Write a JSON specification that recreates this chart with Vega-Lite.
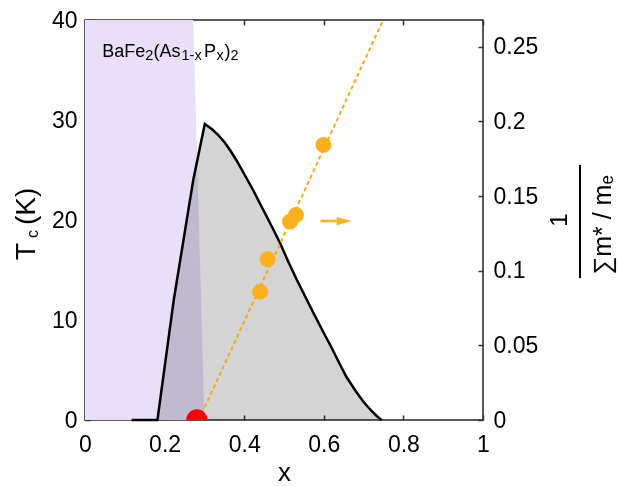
{
  "$schema": "https://vega.github.io/schema/vega-lite/v6.json",
  "width": 398,
  "height": 400,
  "autosize": "none",
  "padding": {"left": 85, "top": 20, "right": 138, "bottom": 66},
  "background": "white",
  "config": {
    "view": {"stroke": "#222", "strokeWidth": 1.5},
    "axis": {
      "labelFont": "Liberation Sans",
      "labelFontSize": 23,
      "labelColor": "#000",
      "titleFont": "Liberation Sans",
      "titleColor": "#000",
      "titleFontWeight": "normal",
      "domain": false,
      "grid": false,
      "tickColor": "#333",
      "tickWidth": 1.5,
      "tickSize": -5,
      "zindex": 1
    },
    "text": {"font": "Liberation Sans", "color": "#000"}
  },
  "datasets": {
    "purple": [{"x": 0.30, "Tc": 0}, {"x": 0.272, "Tc": 40}],
    "tc": [
      {"x": 0.117, "Tc": 0},
      {"x": 0.182, "Tc": 0},
      {"x": 0.223, "Tc": 12},
      {"x": 0.272, "Tc": 24},
      {"x": 0.301, "Tc": 29.6},
      {"x": 0.32, "Tc": 29.05},
      {"x": 0.336, "Tc": 28.45},
      {"x": 0.352, "Tc": 27.7},
      {"x": 0.366, "Tc": 26.9},
      {"x": 0.38, "Tc": 26.0},
      {"x": 0.40, "Tc": 24.6},
      {"x": 0.425, "Tc": 22.8},
      {"x": 0.448, "Tc": 21.0},
      {"x": 0.47, "Tc": 19.3},
      {"x": 0.49, "Tc": 17.7},
      {"x": 0.51, "Tc": 15.9},
      {"x": 0.53, "Tc": 14.2},
      {"x": 0.55, "Tc": 12.6},
      {"x": 0.574, "Tc": 10.7},
      {"x": 0.60, "Tc": 8.7},
      {"x": 0.62, "Tc": 7.2},
      {"x": 0.64, "Tc": 5.6},
      {"x": 0.657, "Tc": 4.3},
      {"x": 0.68, "Tc": 2.9},
      {"x": 0.70, "Tc": 1.8},
      {"x": 0.72, "Tc": 0.9},
      {"x": 0.733, "Tc": 0.4},
      {"x": 0.745, "Tc": 0}
    ],
    "mass": [
      {"x": 0.440, "v": 0.086},
      {"x": 0.459, "v": 0.1077},
      {"x": 0.515, "v": 0.1329},
      {"x": 0.530, "v": 0.1374},
      {"x": 0.599, "v": 0.1843}
    ],
    "red": [{"x": 0.281, "v": 0}],
    "fit": [{"x": 0.286, "v": 0}, {"x": 0.749, "v": 0.268}],
    "formula": [
      {"part": "BaFe", "pos": 0.0435, "level": 36.33, "sub": false},
      {"part": "2", "pos": 0.1515, "level": 36.0, "sub": true},
      {"part": "(As", "pos": 0.1719, "level": 36.33, "sub": false},
      {"part": "1-x", "pos": 0.2425, "level": 36.0, "sub": true},
      {"part": "P", "pos": 0.299, "level": 36.33, "sub": false},
      {"part": "x", "pos": 0.3304, "level": 36.0, "sub": true},
      {"part": ")", "pos": 0.3505, "level": 36.33, "sub": false},
      {"part": "2", "pos": 0.3656, "level": 36.0, "sub": true}
    ],
    "one": [{"k": 1}]
  },
  "resolve": {"scale": {"x": "independent", "y": "independent"}},
  "layer": [
    {
      "layer": [
        {
          "data": {"name": "purple"},
          "mark": {"type": "area", "orient": "horizontal", "color": "#e9dff8"},
          "encoding": {
            "x": {
              "field": "x", "type": "quantitative",
              "scale": {"domain": [0, 1], "nice": false, "zero": false},
              "axis": {
                "orient": "bottom",
                "title": "x",
                "titleFontSize": 26,
                "titlePadding": 3,
                "values": [0, 0.1, 0.2, 0.3, 0.4, 0.5, 0.6, 0.7, 0.8, 0.9, 1],
                "labelExpr": "round(datum.value*10)%2==0 ? format(datum.value,'~g') : ''",
                "labelPadding": 18,
                "labelFlush": false
              }
            },
            "y": {
              "field": "Tc", "type": "quantitative",
              "scale": {"domain": [0, 40], "nice": false},
              "axis": {
                "orient": "left",
                "title": null,
                "values": [0, 5, 10, 15, 20, 25, 30, 35, 40],
                "labelExpr": "datum.value%10==0 ? format(datum.value,'~g') : ''",
                "labelPadding": 13
              }
            }
          }
        },
        {
          "data": {"name": "tc"},
          "mark": {"type": "area", "color": "#d4d4d4", "blend": "multiply"},
          "encoding": {
            "x": {"field": "x", "type": "quantitative"},
            "y": {"field": "Tc", "type": "quantitative"}
          }
        },
        {
          "data": {"name": "tc"},
          "mark": {"type": "line", "color": "#000", "strokeWidth": 2.5, "strokeJoin": "miter"},
          "encoding": {
            "x": {"field": "x", "type": "quantitative"},
            "y": {"field": "Tc", "type": "quantitative"}
          }
        },
        {
          "data": {"name": "formula"},
          "mark": {"type": "text", "align": "left", "baseline": "alphabetic"},
          "encoding": {
            "x": {"field": "pos", "type": "quantitative"},
            "y": {"field": "level", "type": "quantitative"},
            "text": {"field": "part"},
            "size": {"field": "sub", "type": "nominal", "scale": {"domain": [false, true], "range": [18, 14.5]}, "legend": null}
          }
        },
        {
          "data": {"name": "one"},
          "mark": {"type": "text", "text": "T", "fontSize": 28, "angle": 270, "align": "left", "baseline": "alphabetic"},
          "encoding": {"x": {"datum": -0.1256, "type": "quantitative"}, "y": {"datum": 16.0, "type": "quantitative"}}
        },
        {
          "data": {"name": "one"},
          "mark": {"type": "text", "text": "c", "fontSize": 16, "angle": 270, "align": "left", "baseline": "alphabetic"},
          "encoding": {"x": {"datum": -0.1193, "type": "quantitative"}, "y": {"datum": 18.2, "type": "quantitative"}}
        },
        {
          "data": {"name": "one"},
          "mark": {"type": "text", "text": "(K)", "fontSize": 28, "angle": 270, "align": "left", "baseline": "alphabetic"},
          "encoding": {"x": {"datum": -0.1256, "type": "quantitative"}, "y": {"datum": 19.5, "type": "quantitative"}}
        }
      ]
    },
    {
      "layer": [
        {
          "data": {"name": "fit"},
          "mark": {"type": "line", "color": "#f9a61a", "strokeWidth": 2, "strokeDash": [4, 3]},
          "encoding": {
            "x": {
              "field": "x", "type": "quantitative",
              "scale": {"domain": [0, 1], "nice": false, "zero": false},
              "axis": {
                "orient": "top",
                "title": null,
                "labels": false,
                "values": [0, 0.1, 0.2, 0.3, 0.4, 0.5, 0.6, 0.7, 0.8, 0.9, 1]
              }
            },
            "y": {
              "field": "v", "type": "quantitative",
              "scale": {"domain": [0, 0.268], "nice": false},
              "axis": {
                "orient": "right",
                "title": null,
                "values": [0, 0.025, 0.05, 0.075, 0.1, 0.125, 0.15, 0.175, 0.2, 0.225, 0.25],
                "labelExpr": "round(datum.value*1000)%50==0 ? format(datum.value,'~g') : ''",
                "labelPadding": 15
              }
            }
          }
        },
        {
          "data": {"name": "mass"},
          "mark": {"type": "circle", "color": "#fbb11f", "opacity": 1, "size": 254},
          "encoding": {
            "x": {"field": "x", "type": "quantitative"},
            "y": {"field": "v", "type": "quantitative"}
          }
        },
        {
          "data": {"name": "red"},
          "mark": {"type": "circle", "color": "#ff0000", "opacity": 1, "size": 452, "clip": true},
          "encoding": {
            "x": {"field": "x", "type": "quantitative"},
            "y": {"field": "v", "type": "quantitative"}
          }
        },
        {
          "data": {"name": "one"},
          "mark": {"type": "rule", "color": "#fbb11f", "strokeWidth": 2.5},
          "encoding": {"x": {"datum": 0.5917, "type": "quantitative"}, "x2": {"datum": 0.64}, "y": {"datum": 0.1333, "type": "quantitative"}}
        },
        {
          "data": {"name": "one"},
          "mark": {"type": "point", "shape": "M-1,-0.55L1,0L-1,0.55Z", "filled": true, "color": "#fbb11f", "opacity": 1, "size": 225},
          "encoding": {"x": {"datum": 0.651, "type": "quantitative"}, "y": {"datum": 0.1333, "type": "quantitative"}}
        },
        {
          "data": {"name": "one"},
          "mark": {"type": "text", "text": "1", "fontSize": 24, "angle": 270, "align": "center", "baseline": "middle"},
          "encoding": {"x": {"datum": 1.1935, "type": "quantitative"}, "y": {"datum": 0.134, "type": "quantitative"}}
        },
        {
          "data": {"name": "one"},
          "mark": {"type": "rule", "color": "#000", "strokeWidth": 2},
          "encoding": {"x": {"datum": 1.2437, "type": "quantitative"}, "y": {"datum": 0.1709, "type": "quantitative"}, "y2": {"datum": 0.0951}}
        },
        {
          "data": {"name": "one"},
          "mark": {"type": "text", "text": "∑m* / mₑ", "fontSize": 25, "angle": 270, "align": "center", "baseline": "middle"},
          "encoding": {"x": {"datum": 1.3015, "type": "quantitative"}, "y": {"datum": 0.1307, "type": "quantitative"}}
        }
      ]
    }
  ]
}
